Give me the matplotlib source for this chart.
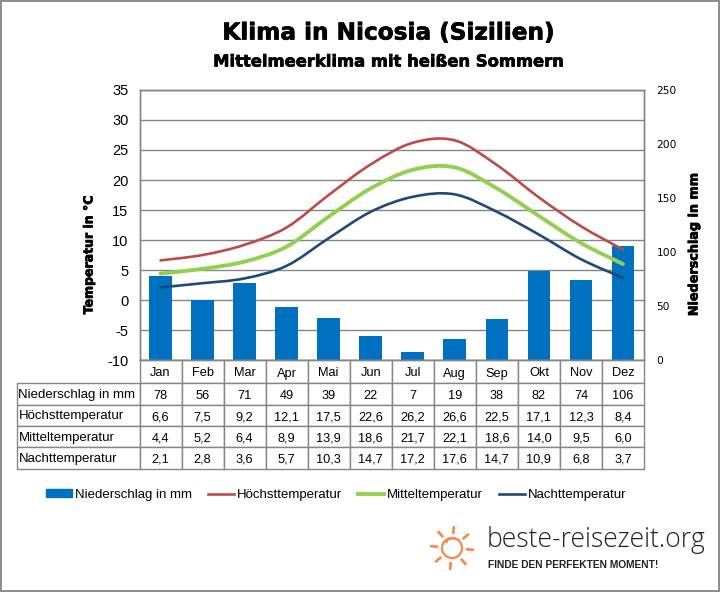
import matplotlib
matplotlib.use("Agg")
import matplotlib.pyplot as plt
import matplotlib.patheffects as pe
import matplotlib.transforms as mtransforms
import numpy as np
from matplotlib.path import Path
from matplotlib.patches import PathPatch, Rectangle, Circle, Arc
from matplotlib.lines import Line2D

months = ["Jan", "Feb", "Mar", "Apr", "Mai", "Jun", "Jul", "Aug", "Sep", "Okt", "Nov", "Dez"]
rain = [78, 56, 71, 49, 39, 22, 7, 19, 38, 82, 74, 106]
t_high = [6.6, 7.5, 9.2, 12.1, 17.5, 22.6, 26.2, 26.6, 22.5, 17.1, 12.3, 8.4]
t_mean = [4.4, 5.2, 6.4, 8.9, 13.9, 18.6, 21.7, 22.1, 18.6, 14.0, 9.5, 6.0]
t_night = [2.1, 2.8, 3.6, 5.7, 10.3, 14.7, 17.2, 17.6, 14.7, 10.9, 6.8, 3.7]

name_rain = "Niederschlag in mm"
name_high = "Höchsttemperatur"
name_mean = "Mitteltemperatur"
name_night = "Nachttemperatur"

temp_ticks = [-10, -5, 0, 5, 10, 15, 20, 25, 30, 35]
rain_ticks = [0, 50, 100, 150, 200, 250]

BLUE = "#0070C0"
RED = "#BE4B48"
GREEN = "#92D050"
NAVY = "#1F497D"
GRID = "#868686"
W, H = 720, 592

plt.rcParams["font.family"] = ["Liberation Sans", "DejaVu Sans"]
plt.rcParams["axes.unicode_minus"] = False
fig = plt.figure(figsize=(W / 100, H / 100), dpi=100, facecolor="white")


def px_box(x0, y0, x1, y1):
    return [x0 / W, 1 - y1 / H, (x1 - x0) / W, (y1 - y0) / H]


def smooth(ax, y, color, lw):
    # same kind of smoothing as an Excel line: bezier segments through the values
    x = np.arange(len(y), dtype=float)
    y = np.array(y, dtype=float)
    verts = [(x[0], y[0])]
    codes = [Path.MOVETO]
    for i in range(len(y) - 1):
        a = max(i - 1, 0)
        b = min(i + 2, len(y) - 1)
        verts.append((x[i] + (x[i + 1] - x[a]) / 6, y[i] + (y[i + 1] - y[a]) / 6))
        verts.append((x[i + 1] - (x[b] - x[i]) / 6, y[i + 1] - (y[b] - y[i]) / 6))
        verts.append((x[i + 1], y[i + 1]))
        codes += [Path.CURVE4] * 3
    ax.add_patch(PathPatch(Path(verts, codes), fc="none", ec=color, lw=lw, capstyle="round"))


# bars sit on the lower axes, the temperature lines on the upper one
ax = fig.add_axes(px_box(139.5, 90, 644, 360))
ax2 = ax.twinx()
ax.set_zorder(ax2.get_zorder() + 1)
ax.patch.set_visible(False)

ax.set_xlim(-0.5, 11.5)
ax.set_ylim(-10, 35)
ax2.set_ylim(0, 250)

for t in temp_ticks:
    ax2.plot([0, 1], [t, t], transform=ax.get_yaxis_transform(), color=GRID, lw=1, zorder=1)
ax2.bar(np.arange(12), rain, width=0.54, color=BLUE, zorder=2)

smooth(ax, t_high, RED, 1.9)
smooth(ax, t_mean, GREEN, 2.8)
smooth(ax, t_night, NAVY, 1.9)

ax.set_xticks([])
ax.set_yticks(temp_ticks)
ax2.set_yticks(rain_ticks)
ax.tick_params(axis="y", length=0, pad=8, labelsize=10.5)
ax2.tick_params(axis="y", length=0, pad=9, labelsize=7.7)
for lab in ax2.get_yticklabels():
    lab.set_family("DejaVu Sans")
for a in (ax, ax2):
    for s in a.spines.values():
        s.set_color(GRID)
        s.set_linewidth(1)

# month row and data rows below the plot
col0 = 122.5
colw = (644 - 139.5) / 12
row_h = [23, 22, 21, 21, 22]
rows = [
    [""] + months,
    [name_rain] + [str(v) for v in rain],
    [name_high] + [f"{v:.1f}".replace(".", ",") for v in t_high],
    [name_mean] + [f"{v:.1f}".replace(".", ",") for v in t_mean],
    [name_night] + [f"{v:.1f}".replace(".", ",") for v in t_night],
]
plot_w = 644 - 139.5
tw = col0 + plot_w
th = sum(row_h)
tab = ax.table(
    cellText=rows,
    cellLoc="center",
    colWidths=[col0 / tw] + [colw / tw] * 12,
    bbox=[-col0 / plot_w, -th / 270, tw / plot_w, th / 270],
)
tab.auto_set_font_size(False)
for (r, c), cell in tab.get_celld().items():
    cell.set_height(row_h[r] / th)
    cell.set_edgecolor(GRID)
    cell.set_linewidth(1)
    txt = cell.get_text()
    txt.set_fontsize(9.2)
    # cell text positions are in pixels, nudge them down a little
    txt.set_transform(mtransforms.Affine2D().translate(0, -2 if c > 0 else -1))
    if c == 0:
        txt.set_ha("left")
        cell.PAD = 0.012
        txt.set_fontsize(9.5)
    if r == 0 and c == 0:
        cell.visible_edges = ""

# overlay in pixel coordinates for frame, headings and logo
ov = fig.add_axes([0, 0, 1, 1], zorder=-1)
ov.set_xlim(0, W)
ov.set_ylim(H, 0)
ov.axis("off")
ov.add_patch(Rectangle((0.5, 0.5), W - 1.5, H - 1.5, fc="white", ec="#8C8C8C", lw=1.4))

heavy = [pe.withStroke(linewidth=0.5, foreground="black")]
fig.text(388.5 / W, 1 - 33 / H, "Klima in Nicosia (Sizilien)", ha="center", va="center",
         family="DejaVu Sans", fontsize=16.7, fontweight="bold", color="black", path_effects=heavy)
fig.text(388.5 / W, 1 - 62 / H, "Mittelmeerklima mit heißen Sommern", ha="center", va="center",
         family="DejaVu Sans", fontsize=11.8, fontweight="bold", color="black", path_effects=heavy)
fig.text(89 / W, 1 - 255 / H, "Temperatur in °C", rotation=90, ha="center", va="center",
         family="DejaVu Sans", fontsize=9, fontweight="bold", path_effects=heavy)
fig.text(694 / W, 1 - 244.5 / H, name_rain, rotation=90, ha="center", va="center",
         family="DejaVu Sans", fontsize=9.2, fontweight="bold", path_effects=heavy)

handles = [
    Rectangle((0, 0), 1, 1, fc=BLUE, ec=BLUE),
    Line2D([], [], color=RED, lw=1.9),
    Line2D([], [], color=GREEN, lw=2.8),
    Line2D([], [], color=NAVY, lw=1.9),
]
fig.legend(handles, [name_rain, name_high, name_mean, name_night], ncol=4, frameon=False,
           loc="center left", bbox_to_anchor=(46 / W, 1 - 495 / H), fontsize=9.5,
           handlelength=2.0, handleheight=0.55, handletextpad=0.2, columnspacing=1.2,
           borderpad=0, borderaxespad=0)

# logo
sun = "#F58A4B"
cx, cy = 452, 548
ov.add_patch(Circle((cx, cy), 10, fc="none", ec=sun, lw=1.6))
ov.add_patch(Arc((cx + 1, cy - 6), 13, 7, theta1=170, theta2=350, ec=sun, lw=1.6))
for deg in np.arange(0, 360, 45) + 5:
    r = np.radians(deg)
    ov.plot([cx + 15 * np.cos(r), cx + 21 * np.cos(r)], [cy + 15 * np.sin(r), cy + 21 * np.sin(r)],
            color=sun, lw=2, solid_capstyle="round")
fig.text(487 / W, 1 - 540 / H, "beste-reisezeit.org", family="Open Sans", fontweight="light",
         fontsize=19.1, ha="left", va="center", color="#222222")
fig.text(488 / W, 1 - 565 / H, "FINDE DEN PERFEKTEN MOMENT!", family="Liberation Sans", fontweight="bold",
         fontsize=7.4, ha="left", va="center", color="#222222")

fig.savefig("out.png", dpi=100)
